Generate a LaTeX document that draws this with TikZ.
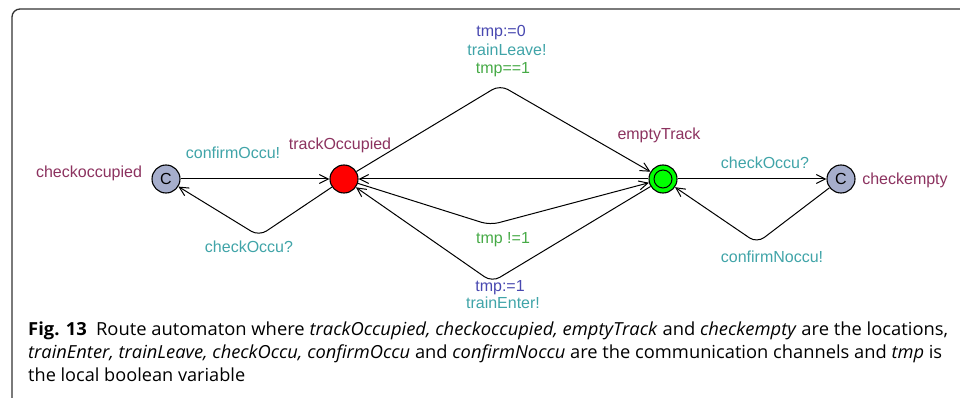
\documentclass[tikz,border=0pt]{standalone}
\usepackage{fontspec}
\usepackage{graphicx}
\setmainfont{Liberation Sans}
\newfontfamily\capfont{Open Sans}
\usetikzlibrary{arrows.meta}

\definecolor{locname}{RGB}{140,50,95}
\definecolor{syncol}{RGB}{64,164,168}
\definecolor{guardcol}{RGB}{70,170,70}
\definecolor{updcol}{RGB}{72,72,176}
\definecolor{commcol}{RGB}{166,174,204}

\begin{document}
\begin{tikzpicture}[x=1pt,y=-1pt,
  every node/.style={font=\fontsize{16}{19}\selectfont},
  loc/.style={circle,draw=black,line width=1.1pt,minimum size=28pt,inner sep=0pt},
  committed/.style={loc,fill=commcol},
  lname/.style={text=locname,anchor=base,inner sep=0pt},
  sync/.style={text=syncol,anchor=base,inner sep=0pt},
  guard/.style={text=guardcol,anchor=base,inner sep=0pt},
  upd/.style={text=updcol,anchor=base,inner sep=0pt},
  edge/.style={draw=black,line width=1pt,rounded corners=9pt,
    -{Straight Barb[length=9pt,width=9pt]}},
  capline/.style={anchor=base west,inner sep=0pt,font=\capfont\fontsize{18}{21}\selectfont}
]
\useasboundingbox (0,0) rectangle (960,398);

% outer frame
\draw[line width=1.3pt,draw=black!80,rounded corners=8pt] (12,402) -- (12,9) -- (964,9);

% locations
\node[committed] (co) at (166,179) {C};
\node[loc,fill=red] (to) at (344,179) {};
\node[loc,fill=green] (et) at (663,179) {};
\draw[line width=1pt] (et) circle (9pt);
\node[committed] (ce) at (841,179) {C};

% location names
\node[lname] at (89,178) {checkoccupied};
\node[lname] at (340,150) {trackOccupied};
\node[lname] at (659,140) {emptyTrack};
\node[lname] at (905,185) {checkempty};

% corner points of the bent edges
\coordinate (ktop) at (500,85);
\coordinate (kmid) at (490,225);
\coordinate (kbot) at (492,282);
\coordinate (kleft) at (259,236);
\coordinate (kright) at (757,243);

% transitions
\draw[edge] (co) -- (to);
\draw[edge] (to) -- (kleft) -- (co);
\draw[edge] (to) -- (ktop) -- (et);
\draw[edge] (et) -- (to);
\draw[edge] (to) -- (kmid) -- (et);
\draw[edge] (et) -- (kbot) -- (to);
\draw[edge] (et) -- (ce);
\draw[edge] (ce) -- (kright) -- (et);

% transition labels
\node[sync] at (233,159) {confirmOccu!};
\node[sync] at (249,252) {checkOccu?};
\node[upd] at (501,37) {tmp:=0};
\node[sync] at (507,56) {trainLeave!};
\node[guard] at (503,74) {tmp==1};
\node[guard] at (503,243) {tmp !=1};
\node[upd] at (500,291) {tmp:=1};
\node[sync] at (503,308) {trainEnter!};
\node[sync] at (765,168) {checkOccu?};
\node[sync] at (772,262) {confirmNoccu!};

% caption
\node[capline] at (28,335) {\resizebox{920pt}{\height}{\textbf{Fig. 13}\enspace Route automaton where \textit{trackOccupied, checkoccupied, emptyTrack} and \textit{checkempty} are the locations,}};
\node[capline] at (28,358) {\resizebox{914pt}{\height}{\textit{trainEnter, trainLeave, checkOccu, confirmOccu} and \textit{confirmNoccu} are the communication channels and \textit{tmp} is}};
\node[capline] at (28,381) {\resizebox{217pt}{\height}{the local boolean variable}};
\end{tikzpicture}
\end{document}
